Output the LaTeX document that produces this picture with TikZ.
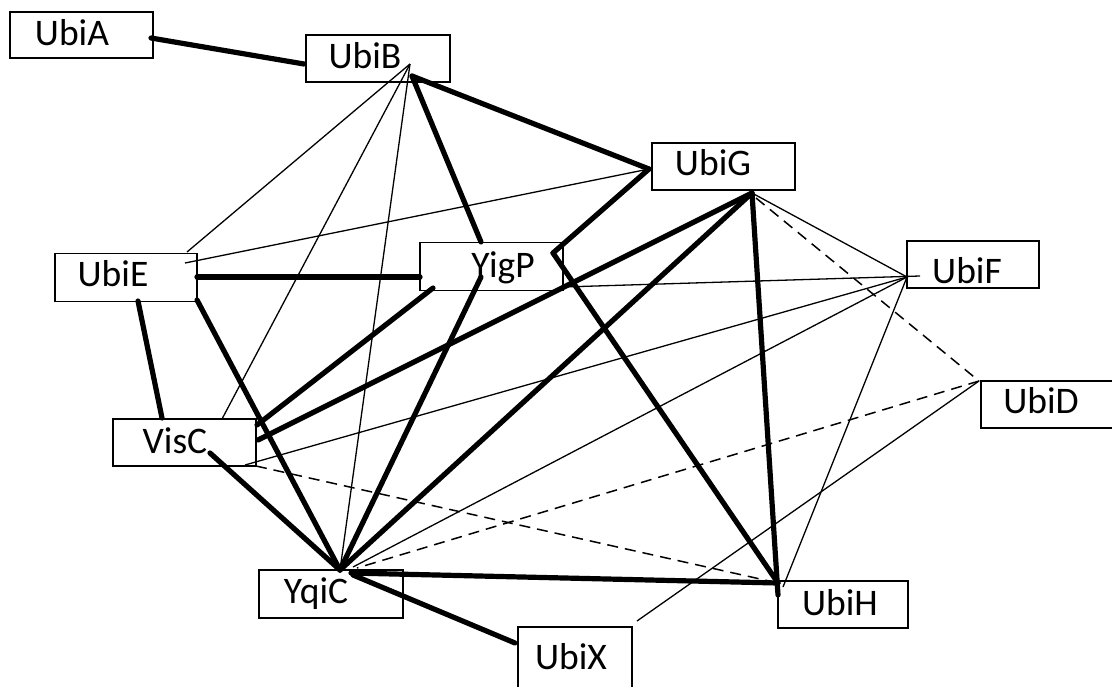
\documentclass[tikz,border=0pt]{standalone}
\usepackage{fontspec}
\setmainfont{Carlito}
\begin{document}
\begin{tikzpicture}[x=1pt,y=-1pt,
  box/.style={draw, line width=1.9pt, inner sep=0pt},
  lbl/.style={inner sep=0pt, anchor=base, font=\fontsize{37.5pt}{40pt}\selectfont},
  thick edge/.style={line width=5.2pt, line cap=round},
  thin edge/.style={line width=1.3pt},
  dash edge/.style={line width=1.5pt, dash pattern=on 11pt off 7pt}]
\path[use as bounding box, clip] (0,0) rectangle (1112,686);
% boxes
\node[box, minimum width=143pt, minimum height=46pt] (A) at (81.5,35) {};
\node[box, minimum width=144pt, minimum height=47pt] (B) at (378,58.5) {};
\node[box, minimum width=143pt, minimum height=47pt] (G) at (723.5,166.5) {};
\node[box, minimum width=142pt, minimum height=48pt] (E) at (126,277.5) {};
\node[box, minimum width=143pt, minimum height=48pt] (P) at (491.5,266.5) {};
\node[box, minimum width=132pt, minimum height=47pt] (F) at (973,264.5) {};
\node[box, minimum width=144pt, minimum height=47pt] (D) at (1053,404.5) {};
\node[box, minimum width=143pt, minimum height=47pt] (V) at (184.5,442.5) {};
\node[box, minimum width=144pt, minimum height=48pt] (Q) at (331,594) {};
\node[box, minimum width=130pt, minimum height=47pt] (H) at (843,604.5) {};
\node[box, minimum width=114pt, minimum height=73pt] (X) at (575,663.5) {};
% labels
\node[lbl] (At) at (72,45) {UbiA};
\node[lbl] (Bt0) at (365,68) {UbiB};
\node[lbl] (Gt) at (713,175) {UbiG};
\node[lbl] (Et) at (113,286) {UbiE};
\node[lbl] (Pt0) at (503,277) {YigP};
\node[lbl] (Ft) at (967,283) {UbiF};
\node[lbl] (Dt) at (1041,413) {UbiD};
\node[lbl] (Vt0) at (175,453) {VisC};
\node[lbl] (Qt) at (316,603) {YqiC};
\node[lbl] (Ht) at (840,615) {UbiH};
\node[lbl] (Xt0) at (571,669) {UbiX};
% connection points
\coordinate (Ar) at (151,38);
\coordinate (Bl) at (304,64);
\coordinate (Bt) at (410,64);
\coordinate (Bh) at (412,76);
\coordinate (Gl) at (649,169);
\coordinate (Gb) at (752,193);
\coordinate (Gd) at (756,198);
\coordinate (Ptop) at (481,242);
\coordinate (Pk) at (553,253);
\coordinate (Pl) at (420,277);
\coordinate (Pb1) at (433,288);
\coordinate (Pb2) at (481,277);
\coordinate (Pr) at (563,287);
\coordinate (Er) at (197,277);
\coordinate (Et1) at (187,252);
\coordinate (Ei) at (185,263);
\coordinate (Eb) at (138,301);
\coordinate (Ebr) at (197,300);
\coordinate (Vt) at (162,418);
\coordinate (Vt2) at (222,419);
\coordinate (Vr1) at (257,425);
\coordinate (Vr2) at (258,440);
\coordinate (Vc) at (210,453);
\coordinate (Vb) at (245,465);
\coordinate (Vb2) at (256,466);
\coordinate (Qh) at (340,570);
\coordinate (Qr) at (351,573);
\coordinate (Qf) at (353,567);
\coordinate (Qd) at (357,568);
\coordinate (Qx) at (353,575);
\coordinate (Hh) at (778,583);
\coordinate (Hb) at (778,595);
\coordinate (Hf) at (783,587);
\coordinate (Fh) at (907,277);
\coordinate (Fi) at (920,276);
\coordinate (Dh) at (979,381);
\coordinate (Xt) at (637,621);
\coordinate (Xl) at (515,643);
% thick edges
\draw[thick edge] (Ar) -- (Bl);
\draw[thick edge] (Bh) -- (Gl);
\draw[thick edge] (Bh) -- (Ptop);
\draw[thick edge] (Gl) -- (Pk);
\draw[thick edge] (Pk) -- (Hh);
\draw[thick edge] (Er) -- (Pl);
\draw[thick edge] (Eb) -- (Vt);
\draw[thick edge] (Ebr) -- (Qh);
\draw[thick edge] (Vr1) -- (Pb1);
\draw[thick edge] (Vr2) -- (Gb);
\draw[thick edge] (Vc) -- (Qh);
\draw[thick edge] (Qh) -- (Pb2);
\draw[thick edge] (Qh) -- (Gb);
\draw[thick edge] (Qr) -- (Hh);
\draw[thick edge] (Qx) -- (Xl);
\draw[thick edge] (Gb) -- (Hb);
% thin edges
\draw[thin edge] (Bt) -- (Et1);
\draw[thin edge] (Bt) -- (Vt2);
\draw[thin edge] (Bt) -- (Qh);
\draw[thin edge] (Gl) -- (Ei);
\draw[thin edge] (Gb) -- (Fh);
\draw[thin edge] (Pr) -- (Fi);
\draw[thin edge] (Vb) -- (Fh);
\draw[thin edge] (Qf) -- (Fh);
\draw[thin edge] (Hf) -- (Fh);
\draw[thin edge] (Dh) -- (Xt);
% dashed edges
\draw[dash edge] (Gd) -- (Dh);
\draw[dash edge] (Dh) -- (Qd);
\draw[dash edge] (Vb2) -- (Hh);
\end{tikzpicture}
\end{document}
